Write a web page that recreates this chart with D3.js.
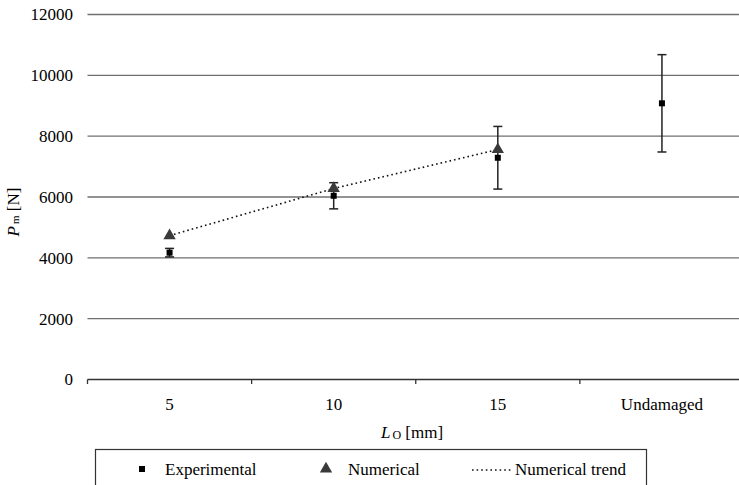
<!DOCTYPE html>
<html>
<head>
<meta charset="utf-8">
<script src="https://cdn.jsdelivr.net/npm/d3@7"></script>
<style>
  body { margin: 0; background: #fff; }
</style>
</head>
<body>
<div id="chart"></div>
<script>
// data
const categories = ["5", "10", "15", "Undamaged"]
const expMean = [4170, 6040, 7290, 9080]
const expErr = [140, 430, 1030, 1600]
const numCategories = ["5", "10", "15"]
const numValues = [4730, 6280, 7560]
const yTicks = [0, 2000, 4000, 6000, 8000, 10000, 12000]

const width = 739, height = 485
const fontSize = 17
const serif = '"Liberation Serif"'

const svg = d3.select("#chart").append("svg")
    .attr("width", width)
    .attr("height", height)
    .style("display", "block")

const x = d3.scaleBand().domain(categories).range([87.5, 744]).padding(0)
const y = d3.scaleLinear().domain([0, 12000]).range([379.5, 14.5])
const cx = c => x(c) + x.bandwidth() / 2

// gridlines
svg.append("g").selectAll("line")
    .data(yTicks.filter(d => d > 0))
    .join("line")
    .attr("x1", 87.5).attr("x2", width)
    .attr("y1", d => y(d)).attr("y2", d => y(d))
    .attr("stroke", "#6f6f6f").attr("stroke-width", 1.3)

// y tick labels
svg.append("g").selectAll("text")
    .data(yTicks)
    .join("text")
    .attr("x", 73).attr("y", d => y(d))
    .attr("dy", "0.35em")
    .attr("text-anchor", "end")
    .style("font-family", serif)
    .style("font-size", fontSize + "px")
    .attr("fill", "#000")
    .text(d => d)

// x axis
const xAxis = d3.axisBottom(x).tickSize(0).tickFormat("")
const gx = svg.append("g").attr("transform", `translate(0,${y(0)})`).call(xAxis)
gx.select(".domain").attr("stroke", "#333").attr("stroke-width", 1.3).attr("d", `M87.5,0H${width}`)
gx.selectAll(".tick").remove()
// boundary ticks between categories
const bounds = categories.map(c => x(c))
gx.selectAll(".bound").data(bounds).join("line")
    .attr("class", "bound")
    .attr("x1", d => d).attr("x2", d => d)
    .attr("y1", 0).attr("y2", 4.5)
    .attr("stroke", "#333").attr("stroke-width", 1.3)

svg.append("g").selectAll("text")
    .data(categories)
    .join("text")
    .attr("x", d => cx(d)).attr("y", 404)
    .attr("dy", "0.35em")
    .attr("text-anchor", "middle")
    .style("font-family", serif)
    .style("font-size", fontSize + "px")
    .attr("fill", "#000")
    .text(d => d)

// axis titles
const xt = svg.append("text")
    .attr("x", 412).attr("y", 432).attr("dy", "0.35em")
    .attr("text-anchor", "middle")
    .style("font-family", serif)
    .style("font-size", fontSize + "px").attr("fill", "#000")
xt.append("tspan").style("font-style", "italic").text("L")
xt.append("tspan").style("font-size", "12px").attr("dx", 2).attr("dy", 1).text("O")
xt.append("tspan").attr("dy", -1).text(" [mm]")

const yt = svg.append("text")
    .attr("transform", "translate(19,212) rotate(-90)")
    .attr("text-anchor", "middle")
    .style("font-family", serif)
    .style("font-size", fontSize + "px").attr("fill", "#000")
yt.append("tspan").style("font-style", "italic").text("P")
yt.append("tspan").style("font-size", "11px").attr("dx", 2).text("m")
yt.append("tspan").text(" [N]")

// numerical trend (dotted)
const line = d3.line().x(d => cx(d[0])).y(d => y(d[1]))
svg.append("path")
    .datum(numCategories.map((c, i) => [c, numValues[i]]))
    .attr("d", line)
    .attr("fill", "none")
    .attr("stroke", "#111")
    .attr("stroke-width", 1.6)
    .attr("stroke-dasharray", "1.6,3")

// error bars
const eb = svg.append("g").attr("stroke", "#222").attr("stroke-width", 1.5)
categories.forEach((c, i) => {
    const lo = y(expMean[i] - expErr[i]), hi = y(expMean[i] + expErr[i])
    eb.append("line").attr("x1", cx(c)).attr("x2", cx(c)).attr("y1", lo).attr("y2", hi)
    eb.append("line").attr("x1", cx(c) - 4.5).attr("x2", cx(c) + 4.5).attr("y1", lo).attr("y2", lo)
    eb.append("line").attr("x1", cx(c) - 4.5).attr("x2", cx(c) + 4.5).attr("y1", hi).attr("y2", hi)
})

// numerical triangles
const tri = d3.symbol().type(d3.symbolTriangle).size(66)
svg.append("g").selectAll("path")
    .data(numCategories)
    .join("path")
    .attr("d", tri)
    .attr("transform", (d, i) => `translate(${cx(d)},${y(numValues[i])})`)
    .attr("fill", "#3a3a3a")

// experimental squares
svg.append("g").selectAll("rect")
    .data(categories)
    .join("rect")
    .attr("x", d => cx(d) - 3).attr("y", (d, i) => y(expMean[i]) - 3)
    .attr("width", 6).attr("height", 6)
    .attr("fill", "#000")

// legend
const lg = svg.append("g")
lg.append("rect")
    .attr("x", 95.5).attr("y", 449.5)
    .attr("width", 551).attr("height", 50)
    .attr("fill", "#fff").attr("stroke", "#333").attr("stroke-width", 1.2)
const ly = 469
const legendText = (xPos, label) => lg.append("text")
    .attr("x", xPos).attr("y", ly).attr("dy", "0.35em")
    .style("font-family", serif)
    .style("font-size", fontSize + "px")
    .attr("fill", "#000").text(label)
lg.append("rect").attr("x", 139).attr("y", ly - 3).attr("width", 6).attr("height", 6).attr("fill", "#000")
legendText(165, "Experimental")
lg.append("path").attr("d", tri).attr("transform", `translate(326,${ly})`).attr("fill", "#3a3a3a")
legendText(348, "Numerical")
lg.append("line").attr("x1", 472).attr("x2", 512).attr("y1", ly + 1).attr("y2", ly + 1)
    .attr("stroke", "#111").attr("stroke-width", 1.6).attr("stroke-dasharray", "1.6,3")
legendText(515, "Numerical trend")
</script>
</body>
</html>
